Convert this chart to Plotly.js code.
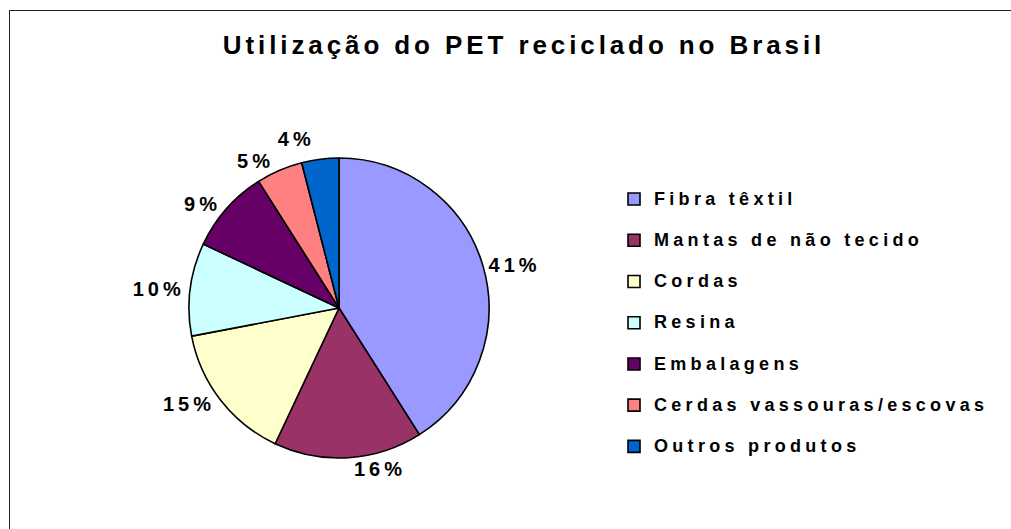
<!DOCTYPE html>
<html>
<head>
<meta charset="utf-8">
<script src="https://cdn.plot.ly/plotly-3.0.1.min.js"></script>
<style>
  html, body { margin: 0; padding: 0; background: #fff; }
  #chart { position: absolute; left: 0; top: 0; width: 1011px; height: 529px; }
  #frame { position: absolute; left: 9px; top: 10px; width: 1200px; height: 700px;
           border-left: 1.5px solid #222; border-top: 1.5px solid #222; pointer-events: none; }
  .gtitle { letter-spacing: 3.9px; font-weight: 700 !important; }
  .legendtext { letter-spacing: 4.3px; font-weight: 700 !important; }
  .slicetext, .outsidetext { letter-spacing: 4px; font-weight: 700 !important; }
  .textline { display: none; }
</style>
</head>
<body>
<div id="chart"></div>
<div id="frame"></div>
<script>
const categories = [
  "Fibra têxtil",
  "Mantas de não tecido",
  "Cordas",
  "Resina",
  "Embalagens",
  "Cerdas vassouras/escovas",
  "Outros produtos"
];
const shares = [41, 16, 15, 10, 9, 5, 4];
const sliceColors = ["#9999FF", "#993366", "#FFFFCC", "#CCFFFF", "#660066", "#FF8080", "#0066CC"];
const chartTitle = "Utilização do PET reciclado no Brasil";

const W = 1011, H = 529;
const cx = 339, cy = 308, r = 150;

const legendLabels = categories.map(c => "<span style='font-size:18px'>" + c + "</span><br> ");

const trace = {
  type: "pie",
  labels: legendLabels,
  values: shares,
  sort: false,
  direction: "clockwise",
  rotation: 0,
  marker: { colors: sliceColors, line: { color: "#000", width: 1.6 } },
  textposition: "outside",
  texttemplate: "%{percent:.0%}",
  outsidetextfont: { family: "Liberation Sans, Arial, sans-serif", size: 20, color: "#000", weight: 700 },
  hoverinfo: "none",
  domain: {
    x: [(cx - r) / W, (cx + r) / W],
    y: [(H - cy - r) / H, (H - cy + r) / H]
  }
};

const layout = {
  width: W, height: H,
  margin: { l: 0, r: 0, t: 0, b: 0 },
  paper_bgcolor: "#fff",
  title: {
    text: chartTitle,
    font: { family: "Liberation Sans, Arial, sans-serif", size: 26, color: "#000", weight: 700 },
    x: 524 / W, xanchor: "center", xref: "paper",
    y: (H - 45) / H, yanchor: "middle", yref: "container"
  },
  showlegend: true,
  legend: {
    x: 614 / W, xanchor: "left",
    y: (H - 183) / H, yanchor: "top",
    valign: "top",
    font: { family: "Liberation Sans, Arial, sans-serif", size: 14.7, color: "#000", weight: 700 },
    bgcolor: "rgba(0,0,0,0)",
    borderwidth: 0
  }
};

Plotly.newPlot("chart", [trace], layout, { staticPlot: true, displayModeBar: false });
</script>
</body>
</html>
